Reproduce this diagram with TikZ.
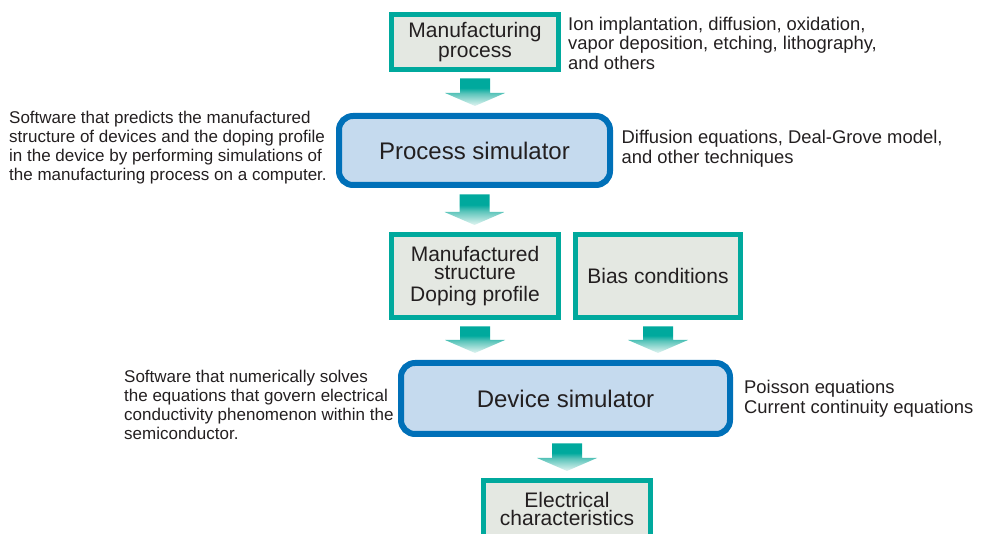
\documentclass[tikz,border=0pt]{standalone}
\usepackage{fontspec}
\setmainfont{Liberation Sans}
\usetikzlibrary{calc}
\definecolor{tealB}{RGB}{0,169,157}
\definecolor{tealM}{RGB}{90,196,186}
\definecolor{tealL}{RGB}{228,245,242}
\definecolor{grayF}{RGB}{228,232,226}
\definecolor{blueB}{RGB}{0,112,184}
\definecolor{blueF}{RGB}{197,218,238}
\definecolor{txt}{RGB}{35,31,32}
\pgfdeclareverticalshading{arrowshade}{100bp}{color(0bp)=(tealL); color(25bp)=(tealL); color(48bp)=(tealM); color(58bp)=(tealB); color(100bp)=(tealB)}
\newcommand\flowarrow[3]{%
  \shade[shading=arrowshade] let \p1=(#1), \p2=(#2.south), \p3=(#3.north) in
    (\x1-15pt,\y2-6.5pt) -- (\x1+15pt,\y2-6.5pt) -- (\x1+15pt,\y3+20pt) --
    (\x1+30pt,\y3+20pt) -- (\x1,\y3+7pt) -- (\x1-30pt,\y3+20pt) --
    (\x1-15pt,\y3+20pt) -- cycle;}
\begin{document}
\begin{tikzpicture}[x=1pt,y=1pt,
  gbox/.style={draw=tealB, line width=5pt, fill=grayF, text=txt, align=center,
    inner sep=0pt, font=\fontsize{21}{18}\selectfont},
  bbox/.style={draw=blueB, line width=6pt, fill=blueF, text=txt, align=center,
    rounded corners=14pt, inner sep=0pt, font=\fontsize{24}{26}\selectfont},
  rnote/.style={text=txt, align=left, inner sep=0pt, anchor=north west,
    font=\fontsize{18.4}{19.6}\selectfont},
  lnote/.style={text=txt, align=left, inner sep=0pt, anchor=north west,
    font=\fontsize{17}{19}\selectfont}]
\useasboundingbox (0,0) rectangle (988,533);
\node[gbox, minimum width=167, minimum height=55, font=\fontsize{21}{20}\selectfont] (mp) at (475,491) {Manufacturing\\process};
\node[bbox, minimum width=271, minimum height=69] (ps) at (474.5,382.5) {Process simulator};
\node[gbox, minimum width=167, minimum height=83, font=\fontsize{21}{18}\selectfont] (ms) at (475,257) {Manufactured\\structure\\[4.5pt]Doping profile};
\node[gbox, minimum width=165, minimum height=83, font=\fontsize{21}{18}\selectfont] (bc) at (658,257) {Bias conditions};
\node[bbox, minimum width=329, minimum height=71] (ds) at (565.5,134.5) {Device simulator};
\node[gbox, minimum width=167, minimum height=57, font=\fontsize{21}{18.5}\selectfont] (ec) at (567,24) {Electrical\\characteristics};

\node[rnote] (t1) at (568,516.3) {Ion implantation, diffusion, oxidation,\\vapor deposition, etching, lithography,\\and others};
\node[rnote] (t2) at (621.5,403) {Diffusion equations, Deal-Grove model,\\and other techniques};
\node[rnote] (t3) at (744,153) {Poisson equations\\Current continuity equations};
\node[lnote] (t4) at (9,422) {Software that predicts the manufactured\\structure of devices and the doping profile\\in the device by performing simulations of\\the manufacturing process on a computer.};
\node[lnote] (t5) at (124,163) {Software that numerically solves\\the equations that govern electrical\\conductivity phenomenon within the\\semiconductor.};

\flowarrow{mp}{mp}{ps}
\flowarrow{ps}{ps}{ms}
\flowarrow{ms}{ms}{ds}
\flowarrow{bc}{bc}{ds}
\flowarrow{ec}{ds}{ec}
\end{tikzpicture}
\end{document}
